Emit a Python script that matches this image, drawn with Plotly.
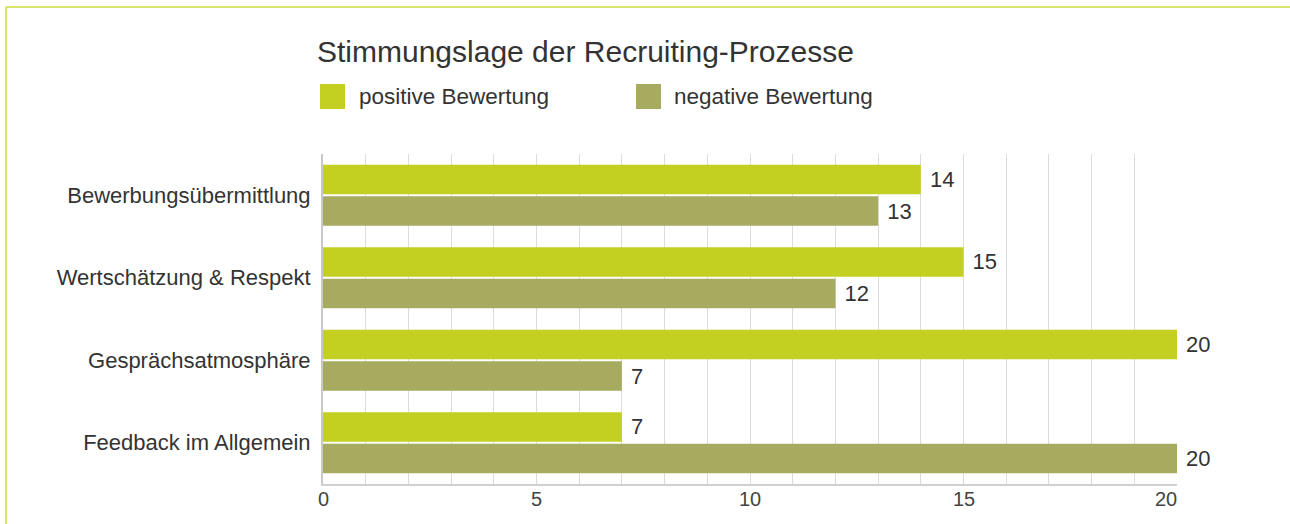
import plotly.graph_objects as go

categories = ["Bewerbungsübermittlung", "Wertschätzung & Respekt", "Gesprächsatmosphäre", "Feedback im Allgemein"]
positive = [14, 15, 20, 7]
negative = [13, 12, 7, 20]
series_names = ["positive Bewertung", "negative Bewertung"]
title_text = "Stimmungslage der Recruiting-Prozesse"
tick_vals = [0, 5, 10, 15, 20]
tick_text = ["0", "5", "10", "15", "20"]

C_POS = "#C3D022"
C_NEG = "#A6AB60"
TXT = "#333333"
FONT = "Liberation Sans, Arial, sans-serif"

W, H = 1290, 524
L, R, T, B = 323, 113, 154, 40
PW, PH = W - L - R, H - T - B

def px(x):
    return (x - L) / PW

def py(y):
    return (H - B - y) / PH

fig = go.Figure()
for name, vals, col in [(series_names[0], positive, C_POS), (series_names[1], negative, C_NEG)]:
    fig.add_trace(go.Bar(
        y=categories, x=vals, orientation="h", name=name,
        marker=dict(color=col, line=dict(width=0)),
        texttemplate="\u00a0%{x}", textposition="outside",
        textfont=dict(size=22, color=TXT, family=FONT),
        cliponaxis=False, showlegend=False,
    ))

shapes = [
    # frame lines
    dict(type="line", xref="paper", yref="paper", x0=px(6), x1=px(1300), y0=py(7), y1=py(7),
         line=dict(color="#D6E36C", width=2)),
    dict(type="line", xref="paper", yref="paper", x0=px(6), x1=px(6), y0=py(7), y1=py(530),
         line=dict(color="#D6E36C", width=2)),
    # legend squares
    dict(type="rect", xref="paper", yref="paper", x0=px(320), x1=px(345), y0=py(109), y1=py(84),
         fillcolor=C_POS, line=dict(width=0)),
    dict(type="rect", xref="paper", yref="paper", x0=px(636), x1=px(661), y0=py(109), y1=py(84),
         fillcolor=C_NEG, line=dict(width=0)),
]

annotations = [
    dict(text=title_text, xref="paper", yref="paper", x=px(315), y=py(51), xanchor="left", yanchor="middle",
         showarrow=False, font=dict(size=30, color=TXT, family=FONT)),
    dict(text=series_names[0], xref="paper", yref="paper", x=px(357), y=py(96), xanchor="left", yanchor="middle",
         showarrow=False, font=dict(size=22.5, color=TXT, family=FONT)),
    dict(text=series_names[1], xref="paper", yref="paper", x=px(672), y=py(96), xanchor="left", yanchor="middle",
         showarrow=False, font=dict(size=22.5, color=TXT, family=FONT)),
]
# x tick labels (last one kept inside the axis end, as in the reference)
for i, (v, t) in enumerate(zip(tick_vals, tick_text)):
    last = i == len(tick_vals) - 1
    annotations.append(dict(text=t, xref="x", yref="paper", x=v, y=py(499), xanchor="right" if last else "center",
                            yanchor="middle", showarrow=False, xshift=2 if last else 0,
                            font=dict(size=20, color="#444444", family=FONT)))

fig.update_layout(
    width=W, height=H,
    margin=dict(l=L, r=R, t=T, b=B, pad=0),
    paper_bgcolor="white", plot_bgcolor="white",
    barmode="group", bargap=0.236, bargroupgap=0.06,
    shapes=shapes, annotations=annotations,
    font=dict(family=FONT, color=TXT),
    xaxis=dict(range=[0, 20], tickvals=tick_vals, showticklabels=False, showgrid=True,
               gridcolor="#DCDCDC", gridwidth=1,
               minor=dict(dtick=1, showgrid=True, gridcolor="#DCDCDC", gridwidth=1),
               showline=True, linecolor="#D0D0D0", linewidth=2, zeroline=False,
               ticks="", fixedrange=True),
    yaxis=dict(autorange="reversed", showgrid=False, showline=True, linecolor="#C8C8C8", linewidth=2,
               zeroline=False, ticks="", ticklabelstandoff=6,
               tickfont=dict(size=22, color=TXT, family=FONT)),
)

fig.write_html("out.html")
